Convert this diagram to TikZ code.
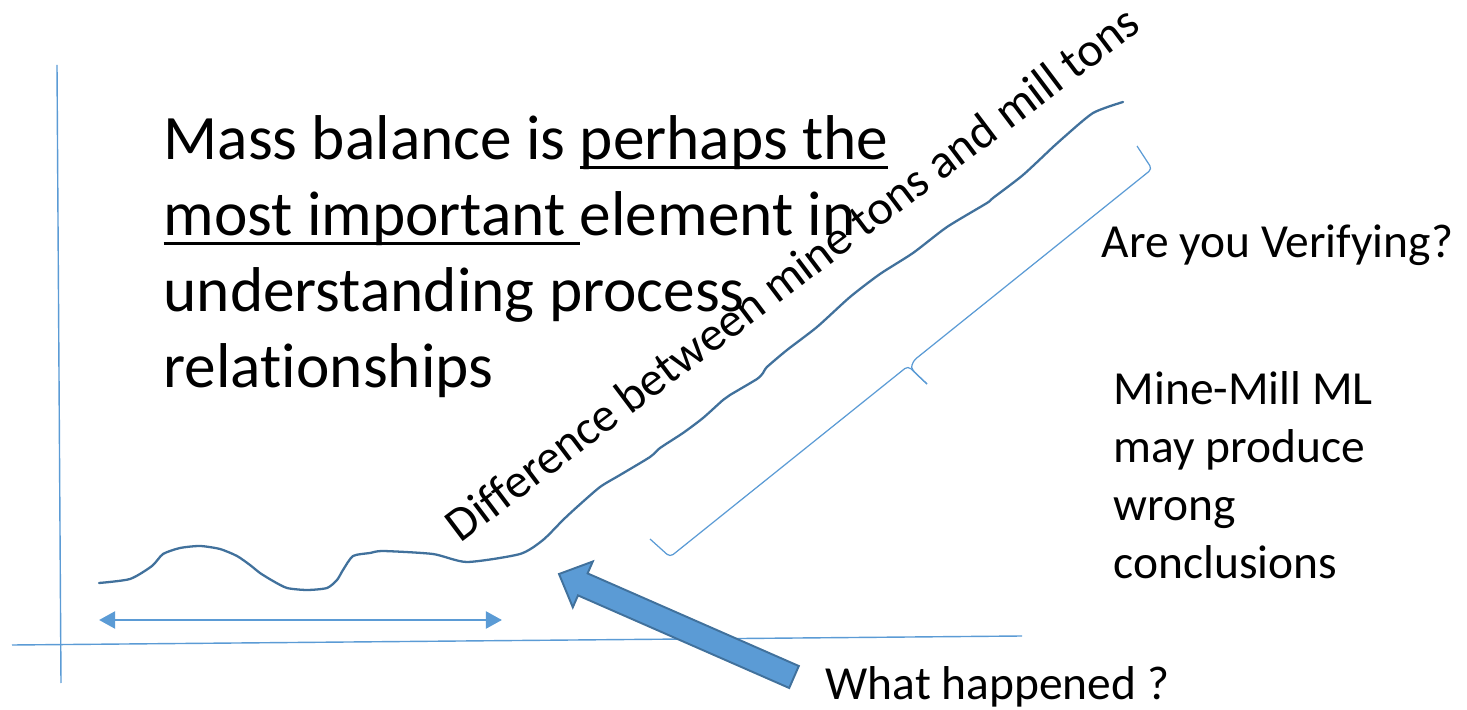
\documentclass[tikz,border=0pt]{standalone}
\usepackage{fontspec}
\setmainfont{Carlito}[Ligatures={NoCommon}]
\usetikzlibrary{arrows.meta}

\definecolor{lineblue}{HTML}{5B9BD5}
\definecolor{curveblue}{HTML}{41719C}

% underline at a fixed depth, through the descenders
\newsavebox{\uwordbox}
\newcommand{\uwords}[1]{\leavevmode\sbox{\uwordbox}{#1}\rlap{\rule[-2.7pt]{\wd\uwordbox}{0.85pt}}\usebox{\uwordbox}}
% ragged lines with the font's own word spaces
\newcommand{\plainlines}{\raggedright\spaceskip=0pt\xspaceskip=0pt\relax}

\begin{document}
\begin{tikzpicture}[x=0.01cm, y=-0.01cm,
		axis/.style={lineblue, line width=0.4pt},
		brace/.style={lineblue, line width=0.35pt, rounded corners=0.4mm},
		bigtext/.style={font=\fontsize{18}{21.6}\selectfont, inner sep=0pt, anchor=base west, text width=9cm},
		smalltext/.style={font=\fontsize{13.5}{16.4}\selectfont, inner sep=0pt, anchor=base west}]
	\useasboundingbox (0,0) rectangle (1467,710);

	% Axes
	\draw[axis] (57,65) -- (61,683);
	\draw[axis] (12,645) -- (1022,636);

	% Curve
	\draw[curveblue, line width=0.65pt, line join=round, line cap=round] plot[smooth, tension=0.4] coordinates {
		(99,583) (130,579) (152,566) (163,554) (180,548) (200,546) (220,549) (237,556)
		(250,565) (260,573) (273,581) (287,588) (307,590) (327,588) (337,580) (343,570)
		(353,556) (370,553) (383,551) (433,554) (467,562) (520,554) (543,540) (563,520)
		(577,507) (600,487) (620,475) (650,457) (660,448) (683,433) (703,418) (723,400)
		(730,395) (757,379) (763,373) (767,367) (787,350) (817,327) (850,297) (880,274)
		(913,253) (947,227) (987,203) (993,198) (1023,175) (1053,147) (1063,138)
		(1093,113) (1123,102)};

	% Flat stretch
	\coordinate (spanL) at (99,620);
	\coordinate (spanR) at (502,620);
	\draw[lineblue, line width=0.85pt, {Triangle[length=4.6pt,width=4.8pt]}-{Triangle[length=4.6pt,width=4.8pt]}] (spanL) -- (spanR);

	% Brace along the rise
	\draw[brace] (650,539) -- (670,557) -- (908,366) -- (927,384);
	\draw[brace] (1137,146) -- (1152,169) -- (913,361) .. controls (911,369) .. (927,384);

	% Block arrow
	\coordinate (tip) at (559,574);
	\filldraw[fill=lineblue, draw=curveblue, line width=0.55pt] (tip) -- (592.8,561.5) -- (587.6,573.4)
		-- (798.8,666.0) -- (789.2,688.0) -- (578.0,595.4) -- (572.8,607.3) -- cycle;

	% Labels
	\node[bigtext] (massnote) at (163,160) {\plainlines Mass balance is \uwords{perhaps the}\\
		\uwords{most important\ }element in\\
		understanding process\\
		relationships};
	\node[font=\fontsize{13.7}{16}\selectfont, inner sep=0pt, anchor=base west, rotate=37] (difflabel) at (460,544) {Difference between mine tons and mill tons};
	\node[smalltext] (verify) at (1101,258) {Are you Verifying?};
	\node[smalltext, text width=4cm] (mlnote) at (1113,405) {\plainlines Mine-Mill ML\\ may produce\\ wrong\\ conclusions};
	\node[smalltext] (happened) at (825,699) {What happened ?};
\end{tikzpicture}
\end{document}
